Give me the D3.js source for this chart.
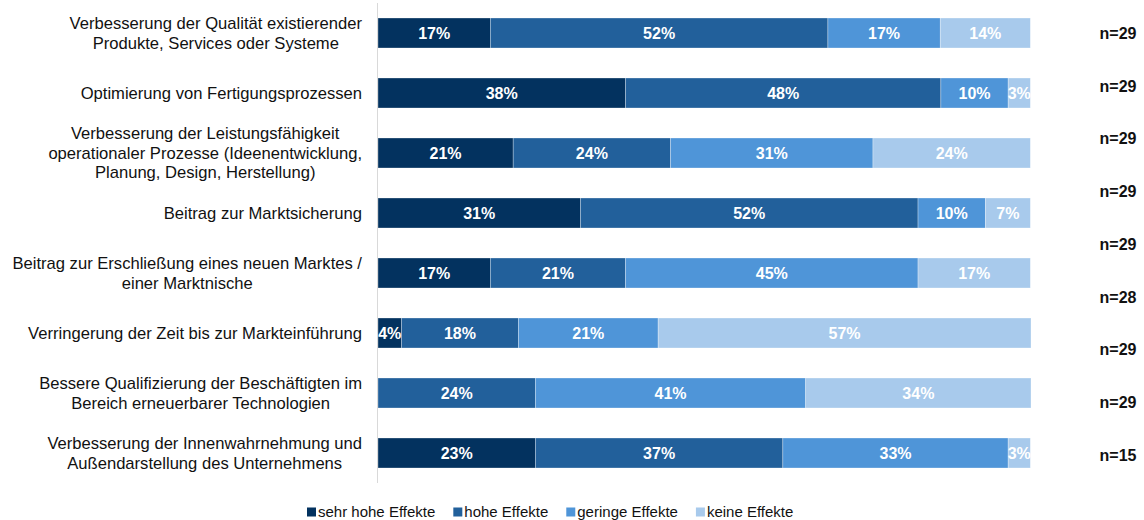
<!DOCTYPE html>
<meta charset="utf-8">
<style>
  body { margin: 0; background: #fff; }
  text { font-family: "Liberation Sans", Arial, sans-serif; }
</style>
<svg width="1144" height="520"></svg>
<script src="https://d3js.org/d3.v7.min.js"></script>
<script>

var categories = [
  ["Verbesserung der Qualität existierender", "Produkte, Services oder Systeme"],
  ["Optimierung von Fertigungsprozessen"],
  ["Verbesserung der Leistungsfähigkeit", "operationaler Prozesse (Ideenentwicklung,", "Planung, Design, Herstellung)"],
  ["Beitrag zur Marktsicherung"],
  ["Beitrag zur Erschließung eines neuen Marktes /", "einer Marktnische"],
  ["Verringerung der Zeit bis zur Markteinführung"],
  ["Bessere Qualifizierung der Beschäftigten im", "Bereich erneuerbarer Technologien"],
  ["Verbesserung der Innenwahrnehmung und", "Außendarstellung des Unternehmens"]
];

var seriesNames = ["sehr hohe Effekte", "hohe Effekte", "geringe Effekte", "keine Effekte"];
var colors = ["#03325f", "#22609b", "#4f95d8", "#a8caec"];

// shares in percent
var sehrHohe = [17.2, 37.9, 20.7, 31.0, 17.2, 3.6, 0, 24.1];
var hohe     = [51.7, 48.3, 24.1, 51.7, 20.7, 17.9, 24.1, 37.9];
var geringe  = [17.2, 10.3, 31.0, 10.3, 44.8, 21.4, 41.4, 34.5];
var keine    = [13.8, 3.4, 24.1, 6.9, 17.2, 57.1, 34.5, 3.4];

// labels as printed on the bars
var sehrHoheLabels = ["17%", "38%", "21%", "31%", "17%", "4%", "", "23%"];
var hoheLabels     = ["52%", "48%", "24%", "52%", "21%", "18%", "24%", "37%"];
var geringeLabels  = ["17%", "10%", "31%", "10%", "45%", "21%", "41%", "33%"];
var keineLabels    = ["14%", "3%", "24%", "7%", "17%", "57%", "34%", "3%"];

var nLabels = ["n=29", "n=29", "n=29", "n=29", "n=29", "n=28", "n=29", "n=29", "n=15"];

var svg = d3.select("svg");

var keys = ["s0", "s1", "s2", "s3"];
var valueCols = [sehrHohe, hohe, geringe, keine];
var labelCols = [sehrHoheLabels, hoheLabels, geringeLabels, keineLabels];

var table = categories.map(function(c, i) {
  var row = {i: i};
  keys.forEach(function(k, j) { row[k] = valueCols[j][i]; });
  return row;
});

var stack = d3.stack().keys(keys)(table);

var x = d3.scaleLinear().domain([0, 100]).range([378, 1031]);
var y = d3.scaleBand().domain(d3.range(categories.length))
    .range([3, 483]).paddingInner(0.5).paddingOuter(0.25);

// bars
var layer = svg.append("g").selectAll("g")
  .data(stack)
  .join("g")
    .attr("fill", function(d, j) { return colors[j]; });

layer.selectAll("rect")
  .data(function(d) { return d; })
  .join("rect")
    .attr("x", function(d) { return x(d[0]); })
    .attr("y", function(d) { return y(d.data.i); })
    .attr("width", function(d) { return x(d[1]) - x(d[0]); })
    .attr("height", y.bandwidth())
    .attr("stroke", "#fff")
    .attr("stroke-width", 0.6)
    .attr("stroke-opacity", 0.5);

// value labels
stack.forEach(function(s, j) {
  svg.append("g").selectAll("text")
    .data(s)
    .join("text")
      .attr("x", function(d) { return (x(d[0]) + x(d[1])) / 2; })
      .attr("y", function(d) { return y(d.data.i) + y.bandwidth() / 2; })
      .attr("dy", "0.36em")
      .attr("text-anchor", "middle")
      .attr("fill", "#fff")
      .style("font-weight", "bold")
      .style("font-size", "16px")
      .text(function(d) { return labelCols[j][d.data.i]; });
});

// category axis line
svg.append("line")
    .attr("x1", x(0) - 0.5).attr("x2", x(0) - 0.5)
    .attr("y1", y.range()[0]).attr("y2", y.range()[1])
    .attr("stroke", "#d9d9d9");

// category labels: block right aligned, lines centred within block
var lineH = 19.5;
var cat = svg.append("g").selectAll("g")
  .data(categories)
  .join("g");

cat.each(function(lines, i) {
  var g = d3.select(this);
  var texts = g.selectAll("text")
    .data(lines)
    .join("text")
      .style("font-size", "16.6px")
      .attr("fill", "#111")
      .attr("text-anchor", "middle")
      .attr("dy", "0.36em")
      .text(function(d) { return d; });
  var maxW = 0;
  texts.each(function() { maxW = Math.max(maxW, this.getComputedTextLength()); });
  var cx = x(0) - 16 - maxW / 2;
  var cy = y(i) + y.bandwidth() / 2;
  texts
    .attr("x", cx)
    .attr("y", function(d, k) { return cy + (k - (lines.length - 1) / 2) * lineH; });
});

// n labels on the right
var ny = d3.scalePoint().domain(d3.range(nLabels.length)).range([33, 455]);
svg.append("g").selectAll("text")
  .data(nLabels)
  .join("text")
    .attr("x", 1118)
    .attr("y", function(d, i) { return ny(i); })
    .attr("dy", "0.36em")
    .attr("text-anchor", "middle")
    .style("font-weight", "bold")
    .style("font-size", "16px")
    .attr("fill", "#111")
    .text(function(d) { return d; });

// legend
var legend = svg.append("g");
var lx = 307, ly = 512;
seriesNames.forEach(function(name, j) {
  legend.append("rect")
      .attr("x", lx).attr("y", ly - 4.5)
      .attr("width", 9).attr("height", 9)
      .attr("fill", colors[j]);
  var t = legend.append("text")
      .attr("x", lx + 11).attr("y", ly)
      .attr("dy", "0.36em")
      .style("font-size", "15px")
      .attr("fill", "#111")
      .text(name);
  lx += 11 + t.node().getComputedTextLength() + 18;
});

</script>
